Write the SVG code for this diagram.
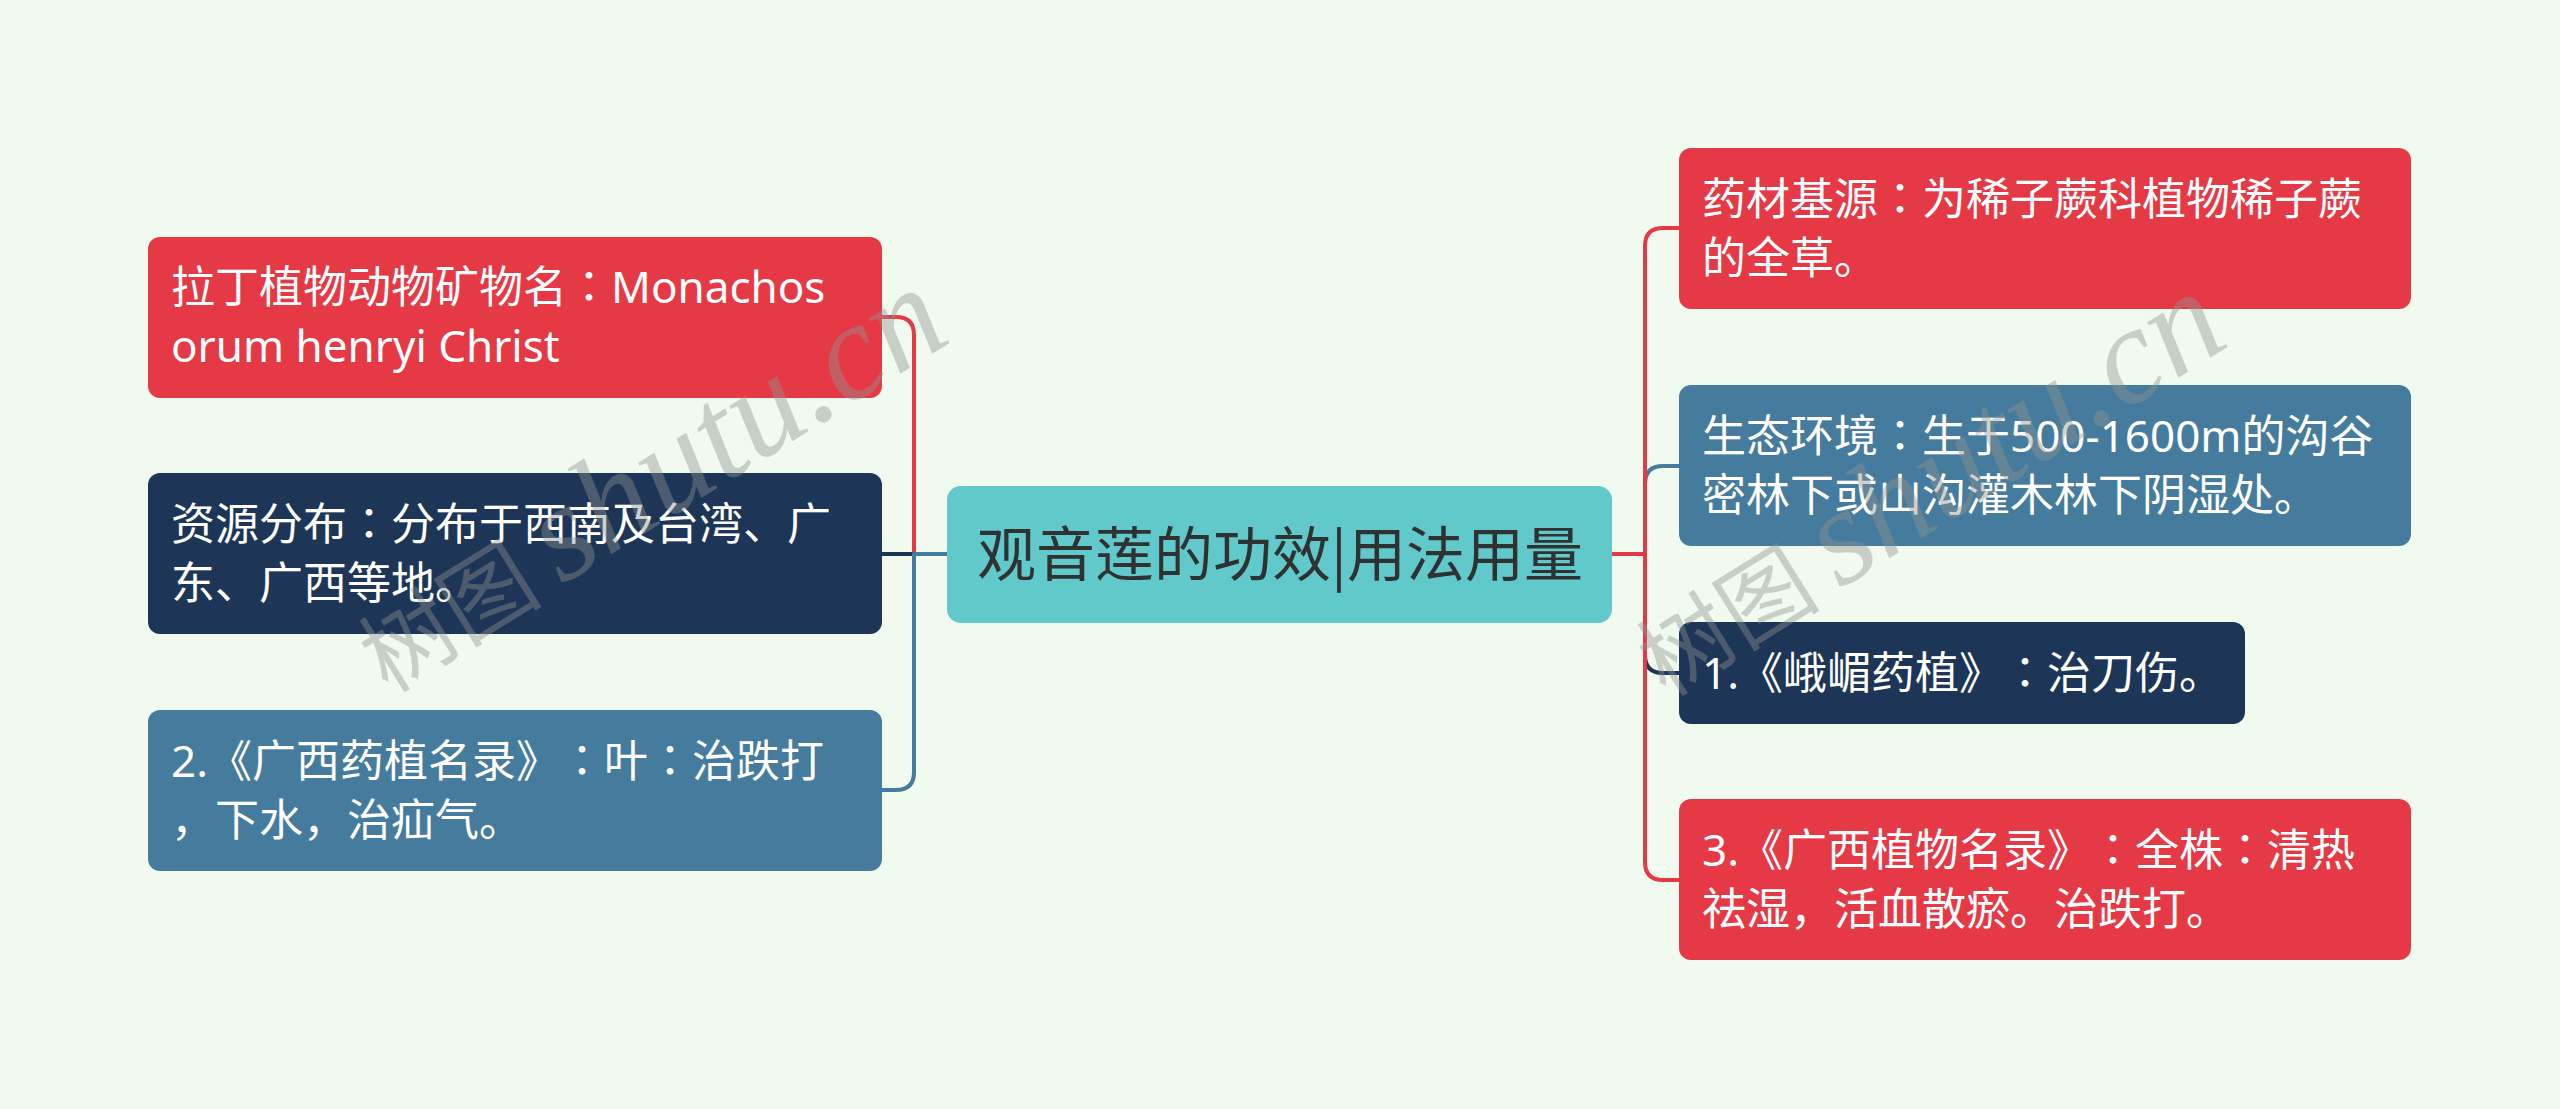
<svg xmlns="http://www.w3.org/2000/svg" width="2560" height="1109" viewBox="0 0 2560 1109">
<style>
.bg{fill:#F1FAEE}
.red{fill:#E63946}
.navy{fill:#1D3557}
.blue{fill:#457B9D}
.teal{fill:#62C9CB}
text{text-spacing-trim:space-all}
.t{font-family:"Noto Sans","Noto Sans CJK SC",sans-serif;font-size:44px;fill:#FFFFFF}
.k{font-family:"Noto Sans CJK JP",sans-serif}
.ct{font-family:"Noto Sans CJK SC","Noto Sans",sans-serif;font-size:59px;fill:#2F3233;text-anchor:middle}
.c{fill:none;stroke-width:4;stroke-linejoin:round}
.cr{stroke:#E63946}
.cn{stroke:#1D3557}
.cb{stroke:#457B9D}
.wm{fill:#8E948E;fill-opacity:0.42}
.wmc{font-family:"Noto Sans CJK SC",serif;font-size:92px}
.wml{font-family:"Liberation Serif",serif;font-style:italic;font-size:138px}
</style>
<rect class="bg" x="0" y="0" width="2560" height="1109"/>
<g id="connectors">
<path class="c cr" d="M947,554 H914 V335 Q914,317 896,317 H882"/>
<path class="c cn" d="M947,554 H882"/>
<path class="c cb" d="M947,554 H914 V772 Q914,790 896,790 H882"/>
<path class="c cb" d="M1612,554 H1645 V484 Q1645,466 1663,466 H1679"/>
<path class="c cn" d="M1612,554 H1645 V655 Q1645,673 1663,673 H1679"/>
<path class="c cr" d="M1612,554 H1645 V246 Q1645,228 1663,228 H1679"/>
<path class="c cr" d="M1612,554 H1645 V862 Q1645,880 1663,880 H1679"/>
</g>
<g id="center">
<rect class="teal" x="947" y="486" width="665" height="137" rx="14"/>
<text class="ct" x="1280" y="576">观音莲的功效|用法用量</text>
</g>
<g id="left1">
<rect class="red" x="148" y="237" width="734" height="161" rx="12"/>
<text class="t" x="171" y="303">拉丁植物动物矿物名<tspan class="k">：</tspan>Monachos</text>
<text class="t" x="171" y="362">orum henryi Christ</text>
</g>
<g id="left2">
<rect class="navy" x="148" y="473" width="734" height="161" rx="12"/>
<text class="t" x="171" y="540">资源分布<tspan class="k">：</tspan>分布于西南及台湾、广</text>
<text class="t" x="171" y="599">东、广西等地。</text>
</g>
<g id="left3">
<rect class="blue" x="148" y="710" width="734" height="161" rx="12"/>
<text class="t" x="171" y="777">2.《广西药植名录》<tspan class="k">：</tspan>叶<tspan class="k">：</tspan>治跌打</text>
<text class="t" x="171" y="836">，下水，治疝气。</text>
</g>
<g id="right1">
<rect class="red" x="1679" y="148" width="732" height="161" rx="12"/>
<text class="t" x="1702" y="215">药材基源<tspan class="k">：</tspan>为稀子蕨科植物稀子蕨</text>
<text class="t" x="1702" y="274">的全草。</text>
</g>
<g id="right2">
<rect class="blue" x="1679" y="385" width="732" height="161" rx="12"/>
<text class="t" x="1702" y="452">生态环境<tspan class="k">：</tspan>生于500-1600m的沟谷</text>
<text class="t" x="1702" y="511">密林下或山沟灌木林下阴湿处。</text>
</g>
<g id="right3">
<rect class="navy" x="1679" y="622" width="566" height="102" rx="12"/>
<text class="t" x="1702" y="689">1.《峨嵋药植》<tspan class="k">：</tspan>治刀伤。</text>
</g>
<g id="right4">
<rect class="red" x="1679" y="799" width="732" height="161" rx="12"/>
<text class="t" x="1702" y="866">3.《广西植物名录》<tspan class="k">：</tspan>全株<tspan class="k">：</tspan>清热</text>
<text class="t" x="1702" y="925">祛湿，活血散瘀。治跌打。</text>
</g>
<g id="watermarks">
<text class="wm" transform="translate(388,694) rotate(-32)"><tspan class="wmc">树图 </tspan><tspan class="wml">shutu.cn</tspan></text>
<text class="wm" transform="translate(1666,698) rotate(-32)"><tspan class="wmc">树图 </tspan><tspan class="wml">shutu.cn</tspan></text>
</g>
</svg>
